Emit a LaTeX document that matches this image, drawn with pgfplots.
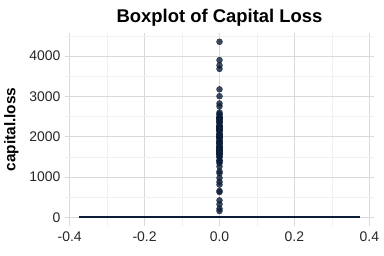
\documentclass[border=0pt]{standalone}
\usepackage{pgfplots}
\pgfplotsset{compat=1.18}
\usepackage{fontspec}
\setmainfont{Liberation Sans}
\definecolor{navy}{RGB}{12,30,55}
\begin{document}
\begin{tikzpicture}
\path[use as bounding box] (0,0) rectangle (384bp,256bp);
\begin{axis}[
  at={(65bp,30bp)}, anchor=south west,
  scale only axis, width=309bp, height=193bp,
  xmin=-0.4125, xmax=0.4125, ymin=-217.8, ymax=4573.8,
  axis line style={draw=none},
  tick style={draw=none},
  xtick={-0.4,-0.2,0,0.2,0.4},
  xticklabels={-0.4,-0.2,0.0,0.2,0.4},
  minor xtick={-0.3,-0.1,0.1,0.3},
  ytick={0,1000,2000,3000,4000},
  yticklabels={0,1000,2000,3000,4000},
  minor ytick={500,1500,2500,3500,4500},
  grid=both,
  major grid style={draw=black!15, line width=0.55pt},
  minor grid style={draw=black!6, line width=0.3pt},
  ticklabel style={font=\fontsize{14}{15}\selectfont, text=black!85},
  /pgf/number format/assume math mode=true,
  xticklabel style={yshift=-2bp},
  yticklabel style={xshift=-1bp},
  ylabel={\textbf{capital.loss}},
  ylabel style={font=\fontsize{15.5}{16}\selectfont, at={([xshift=-43bp]rel axis cs:0,0.5)}, anchor=south},
  title={\textbf{Boxplot of Capital Loss}},
  title style={font=\fontsize{18.5}{19}\selectfont, yshift=-3bp},
  clip=false,
]
\addplot[navy, line width=1.8pt] coordinates {(-0.375,0) (0.375,0)};
\addplot[only marks, mark=*, mark size=3bp, mark options={draw=navy, fill=navy, draw opacity=0.8, fill opacity=0.8}] coordinates {
(0,155)(0,213)(0,323)(0,419)(0,625)(0,653)(0,810)(0,880)(0,974)(0,1092)(0,1138)(0,1258)(0,1340)(0,1380)(0,1408)(0,1411)(0,1485)(0,1504)(0,1539)(0,1564)(0,1573)(0,1579)(0,1590)(0,1594)(0,1602)(0,1617)(0,1628)(0,1648)(0,1651)(0,1668)(0,1669)(0,1672)(0,1719)(0,1721)(0,1726)(0,1735)(0,1740)(0,1741)(0,1755)(0,1762)(0,1816)(0,1825)(0,1844)(0,1848)(0,1876)(0,1887)(0,1902)(0,1944)(0,1974)(0,1977)(0,1980)(0,2001)(0,2002)(0,2042)(0,2051)(0,2057)(0,2080)(0,2129)(0,2149)(0,2163)(0,2174)(0,2179)(0,2201)(0,2205)(0,2206)(0,2231)(0,2238)(0,2246)(0,2258)(0,2267)(0,2282)(0,2339)(0,2352)(0,2377)(0,2392)(0,2415)(0,2444)(0,2457)(0,2465)(0,2467)(0,2472)(0,2489)(0,2547)(0,2559)(0,2603)(0,2754)(0,2824)(0,3004)(0,3175)(0,3683)(0,3770)(0,3900)(0,4356)
};
\end{axis}
\end{tikzpicture}
\end{document}
